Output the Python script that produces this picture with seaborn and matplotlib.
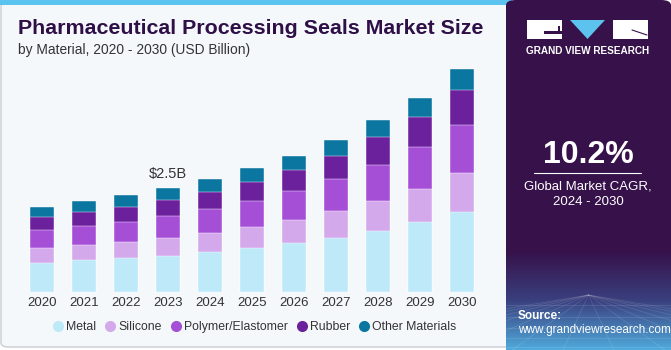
import numpy as np
import pandas as pd
import matplotlib
matplotlib.use("Agg")
import matplotlib.pyplot as plt
from matplotlib.patches import FancyBboxPatch, Rectangle, Polygon
from matplotlib.lines import Line2D
import matplotlib.colors as mcolors
import seaborn as sns

# data (USD Billion)
years = ["2020", "2021", "2022", "2023", "2024", "2025", "2026", "2027", "2028", "2029", "2030"]
metal = [0.70, 0.76, 0.81, 0.87, 0.95, 1.05, 1.17, 1.30, 1.47, 1.68, 1.93]
silicone = [0.35, 0.36, 0.40, 0.43, 0.47, 0.51, 0.56, 0.64, 0.71, 0.80, 0.93]
polymer = [0.43, 0.46, 0.47, 0.53, 0.57, 0.63, 0.70, 0.77, 0.87, 1.01, 1.16]
rubber = [0.32, 0.34, 0.36, 0.39, 0.42, 0.46, 0.51, 0.57, 0.67, 0.73, 0.84]
other = [0.25, 0.26, 0.28, 0.29, 0.30, 0.33, 0.34, 0.38, 0.41, 0.46, 0.50]
materials = ["Metal", "Silicone", "Polymer/Elastomer", "Rubber", "Other Materials"]
colors = ["#BEE9F9", "#D4A9EC", "#A54FD7", "#6C219C", "#0B76A0"]
callout_year = "2023"
callout_text = "$2.5B"
cagr_text = "10.2%"

W, H = 671, 350
BG = "#F4F8FB"
DARK = "#36114A"

sns.set_theme(style="white")
plt.rcParams["font.family"] = ["Liberation Sans", "DejaVu Sans"]

fig = plt.figure(figsize=(W / 100, H / 100), dpi=100)
fig.patch.set_facecolor("white")


def fx(px):
    return px / W


def fy(py):
    return 1 - py / H


# main panel with light border and blue strip on top
panel = FancyBboxPatch((fx(1), fy(347)), fx(512), fy(2) - fy(347),
                       boxstyle="round,pad=0,rounding_size=0.012",
                       transform=fig.transFigure, facecolor=BG,
                       edgecolor="#C9CCD0", linewidth=1.0, zorder=-3)
fig.patches.append(panel)
fig.patches.append(Rectangle((fx(0), fy(5)), fx(512), fy(0) - fy(5),
                             transform=fig.transFigure, facecolor="#5BC3EE",
                             edgecolor="none", zorder=-2))

# right dark panel
side = FancyBboxPatch((fx(506), fy(350)), fx(165), 1,
                      boxstyle="round,pad=0,rounding_size=0.015",
                      transform=fig.transFigure, facecolor=DARK,
                      edgecolor="none", zorder=-1)
fig.patches.append(side)

# bar chart (stacked by overlaying cumulative totals)
df = pd.DataFrame({"year": years, "Metal": metal, "Silicone": silicone,
                   "Polymer/Elastomer": polymer, "Rubber": rubber,
                   "Other Materials": other})
cum = df[materials].cumsum(axis=1)

ax = fig.add_axes([fx(21), fy(291.7), fx(462), fy(59.4) - fy(291.7)])
ax.set_facecolor("none")
for mat, col in reversed(list(zip(materials, colors))):
    sns.barplot(x=df["year"], y=cum[mat], color=col, width=0.55,
                saturation=1, edgecolor="#ffffff", linewidth=0.3, ax=ax)
ax.set_xlim(-0.5, len(years) - 0.5)
ax.set_ylim(0, 5.6)
ax.set_xlabel("")
ax.set_ylabel("")
ax.set_yticks([])
sns.despine(ax=ax, left=True, bottom=True)
ax.tick_params(axis="x", length=0, pad=4, labelsize=9.5, labelcolor="#333333")

idx = years.index(callout_year)
ax.text(idx, cum["Other Materials"][idx] + 0.15, callout_text, ha="center",
        va="bottom", fontsize=10.5, color="#333333")

# legend
handles = [Line2D([0], [0], marker="o", linestyle="none", markersize=8,
                  markerfacecolor=c, markeredgecolor="none") for c in colors]
fig.legend(handles, materials, loc="center", bbox_to_anchor=(fx(255), fy(327)),
           ncol=5, frameon=False, fontsize=8.8, handletextpad=0.3,
           handlelength=0.7, columnspacing=0.8, labelcolor="#333333")

# titles
fig.text(fx(18), fy(29), "Pharmaceutical Processing Seals Market Size",
         fontsize=15.4, fontweight="bold", color="#2E0F46", va="center", ha="left")
fig.text(fx(18), fy(50), "by Material, 2020 - 2030 (USD Billion)",
         fontsize=9.9, color="#333333", va="center", ha="left")

# side panel bottom gradient
gax = fig.add_axes([fx(506), 0, fx(165), fy(250)])
grad = np.linspace(0, 1, 100)[:, None]
cmap = mcolors.LinearSegmentedColormap.from_list("g", [DARK, "#3A3F7E", "#4FA9DB"])
gax.imshow(grad, aspect="auto", cmap=cmap, extent=[0, 1, 0, 1], origin="upper")
for k in np.linspace(-1.5, 2.5, 14):
    gax.plot([0.5, k], [0.55, 0], color="white", alpha=0.12, lw=0.6)
for yy in [0.45, 0.33, 0.22, 0.12, 0.03]:
    gax.axhline(yy, color="white", alpha=0.12, lw=0.6)
gax.set_xlim(0, 1)
gax.set_ylim(0, 1)
gax.axis("off")

# logo
lax = fig.add_axes([fx(527), fy(39), fx(121), fy(20) - fy(39)])
lax.set_xlim(0, 121)
lax.set_ylim(0, 19)
lax.axis("off")
lax.add_patch(Rectangle((0, 0), 35, 19, facecolor="white", edgecolor="none"))
lax.add_patch(Rectangle((17, 5), 18, 3, facecolor=DARK, edgecolor="none"))
lax.add_patch(Rectangle((31, 5), 2, 8, facecolor=DARK, edgecolor="none"))
lax.add_patch(Polygon([(43, 19), (78, 19), (60.5, 0)], facecolor="#5BC3EE", edgecolor="none"))
lax.add_patch(Rectangle((86, 0), 35, 19, facecolor="white", edgecolor="none"))
lax.plot([105, 120], [9, 4], color=DARK, lw=0.8)
fig.text(fx(587.5), fy(50.5), "GRAND VIEW RESEARCH", color="white", fontsize=7.2,
         fontweight="bold", ha="center", va="center")

# CAGR
fig.text(fx(588), fy(155), cagr_text, color="white", fontsize=23,
         fontweight="bold", ha="center", va="center")
fig.lines.append(Line2D([fx(534), fx(641)], [fy(173), fy(173)],
                        transform=fig.transFigure, color="white", lw=0.8))
fig.text(fx(588), fy(186), "Global Market CAGR,", color="white", fontsize=9.5,
         ha="center", va="center")
fig.text(fx(588), fy(202), "2024 - 2030", color="white", fontsize=9.5,
         ha="center", va="center")

fig.text(fx(518), fy(316), "Source:", color="white", fontsize=8.5,
         fontweight="bold", ha="left", va="center")
fig.text(fx(518), fy(330), "www.grandviewresearch.com", color="white",
         fontsize=8.5, ha="left", va="center")

fig.savefig("out.png", dpi=100, facecolor=fig.get_facecolor())
